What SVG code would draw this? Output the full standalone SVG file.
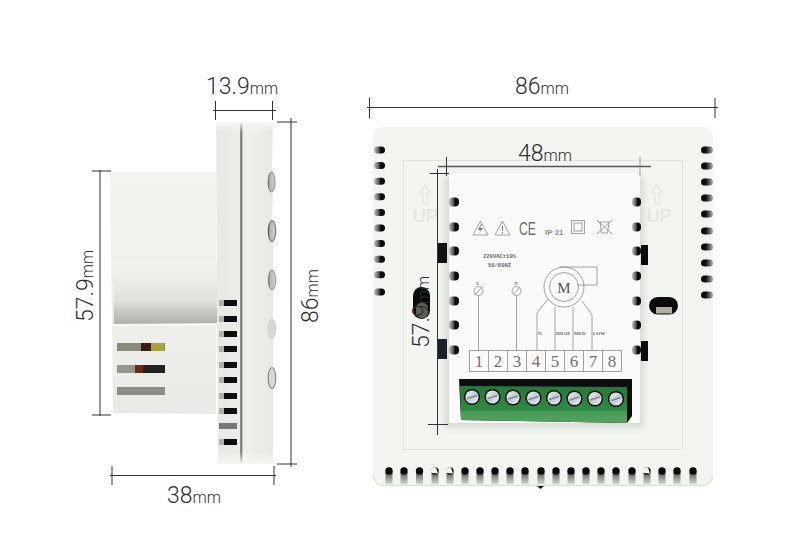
<svg xmlns="http://www.w3.org/2000/svg" width="790" height="554" viewBox="0 0 790 554">
<style>
.dim{stroke:#333;stroke-width:1;fill:none}
.dimb{stroke:#555;stroke-width:1.6;fill:none}
.t{font-family:Roboto,"Liberation Sans",sans-serif;font-weight:300;fill:#2e2e2e}
.big{font-size:23px}
.mm{font-size:16px}
.pr{stroke:#8a8c88;stroke-width:.8;fill:none}
.lb{font-family:"Liberation Serif",serif;font-weight:700;fill:#666;font-size:5px}
.num{font-family:"Liberation Serif",serif;fill:#6f716e;font-size:17px;text-anchor:middle}
.up{font-family:"Liberation Sans",sans-serif;font-size:18px;fill:#e2e4e0;text-anchor:middle}
</style>
<defs>
<linearGradient id="body" x1="0" y1="0" x2="0" y2="1"><stop offset="0" stop-color="#f3f3ef"/><stop offset=".55" stop-color="#efefeb"/><stop offset="1" stop-color="#e9e9e5"/></linearGradient>
<linearGradient id="recess" x1="0" y1="0" x2="0" y2="1"><stop offset="0" stop-color="#f3f3ef"/><stop offset=".6" stop-color="#e2e2de"/><stop offset="1" stop-color="#aeaeaa"/></linearGradient>
<linearGradient id="front" gradientUnits="userSpaceOnUse" x1="216" y1="0" x2="276" y2="0"><stop offset="0" stop-color="#e8e8e4"/><stop offset=".40" stop-color="#ecece8"/><stop offset=".41" stop-color="#7e7e76"/><stop offset=".43" stop-color="#7e7e76"/><stop offset=".45" stop-color="#f0f0ec"/><stop offset="1" stop-color="#e8e8e3"/></linearGradient>
<linearGradient id="cap" x1="0" y1="0" x2="0" y2="1"><stop offset="0" stop-color="#f6f6f3"/><stop offset="1" stop-color="#f6f6f3" stop-opacity="0"/></linearGradient>
<linearGradient id="capb" x1="0" y1="1" x2="0" y2="0"><stop offset="0" stop-color="#f6f6f3"/><stop offset="1" stop-color="#f6f6f3" stop-opacity="0"/></linearGradient>
<linearGradient id="green" x1="0" y1="0" x2="0" y2="1"><stop offset="0" stop-color="#2a763a"/><stop offset=".65" stop-color="#2f8a43"/><stop offset=".7" stop-color="#4b9c58"/><stop offset="1" stop-color="#579f62"/></linearGradient>
<linearGradient id="hvent" x1="0" y1="0" x2="1" y2="0"><stop offset="0" stop-color="#c4c4be"/><stop offset=".45" stop-color="#555"/><stop offset=".6" stop-color="#0c0c0c"/><stop offset="1" stop-color="#0c0c0c"/></linearGradient>
<linearGradient id="hvent2" x1="0" y1="0" x2="1" y2="0"><stop offset="0" stop-color="#0c0c0c"/><stop offset=".4" stop-color="#0c0c0c"/><stop offset="1" stop-color="#b4b4ae"/></linearGradient>
<linearGradient id="bvent" gradientUnits="userSpaceOnUse" x1="0" y1="472" x2="0" y2="484"><stop offset="0" stop-color="#555552"/><stop offset=".6" stop-color="#a4a4a0"/><stop offset="1" stop-color="#d2d2ce"/></linearGradient>
<linearGradient id="sil" x1="0" y1="0" x2="1" y2="1"><stop offset="0" stop-color="#f0f5f8"/><stop offset=".5" stop-color="#c2ccd3"/><stop offset="1" stop-color="#eef2f5"/></linearGradient>
<linearGradient id="btn" x1="0" y1="0" x2="1" y2="0"><stop offset="0" stop-color="#77776f"/><stop offset=".3" stop-color="#b8b8ae"/><stop offset="1" stop-color="#d2d2c8"/></linearGradient>
<filter id="soft" x="-20%" y="-20%" width="140%" height="140%"><feGaussianBlur stdDeviation=".5"/></filter>
<filter id="shadow" x="-10%" y="-10%" width="120%" height="120%"><feGaussianBlur stdDeviation="3"/></filter>
<g id="sv"><rect x="0" y="-3" width="7" height="6" fill="#b0b0a8"/><rect x="5" y="-3" width="13" height="6" fill="#0d0d0d"/></g>
<g id="lv"><rect x="0" y="-3.500" width="11" height="7" rx="3.500" fill="url(#hvent)"/></g>
<g id="rv"><rect x="0" y="-3.500" width="12" height="7" rx="3.500" fill="url(#hvent2)"/></g>
<g id="bv"><rect x="-3.500" y="472" width="7" height="12" fill="url(#bvent)"/><circle cx="0" cy="471" r="3.700" fill="#0a0a0a"/></g>
<g id="bw"><rect x="-3.500" y="472" width="7" height="12" fill="url(#bvent)"/><circle cx="0" cy="471" r="3.700" fill="#0a0a0a"/><path d="M-3.500 473a3.700 3.700 0 0 1 4.500-5.500l2 6z" fill="#f2f2ee"/></g>
<g id="ml"><rect x="0" y="-4.500" width="10" height="9" rx="4" fill="url(#hvent)"/></g>
<g id="mr"><rect x="0" y="-4.500" width="9" height="9" rx="4" fill="url(#hvent)"/></g>
<g id="sc"><circle r="8" fill="#0c0c0c"/><circle r="6.600" fill="url(#sil)"/><path d="M-5 1.500 5-1.500" stroke="#7f8a92" stroke-width="1.500"/></g>
</defs>
<rect width="790" height="554" fill="#fff"/>

<g id="side-view">
<g filter="url(#soft)">
<path d="M110 172H216V414L113 413 112 325 111 262Z" fill="url(#body)"/>
<path d="M113 263H217V323L114 324Z" fill="url(#recess)"/>
<rect x="113" y="324" width="104" height="1.500" fill="#fafaf6"/>
<rect x="117" y="343" width="48" height="8" fill="#8a8a78"/>
<rect x="141" y="343" width="10" height="8" fill="#3a1c14"/><rect x="151" y="343" width="13" height="8" fill="#a8a23c"/>
<rect x="117" y="365" width="48" height="8" fill="#222"/>
<rect x="117" y="365" width="18" height="8" fill="#96968c"/><rect x="135" y="365" width="8" height="8" fill="#6a2c18"/>
<rect x="117" y="387" width="48" height="8" fill="#8c8c86"/>
<path d="M216 123H273L272 170 275 178 276 184 273 194 272 220 276 232 273 244 273 270 276 280 273 292 273 318 276 328 273 340 273 366 276 378 273 392V464H218L217 300Z" fill="url(#front)"/>
<rect x="216" y="122" width="57" height="10" fill="url(#cap)"/>
<rect x="217" y="452" width="57" height="12" fill="url(#capb)"/>
<ellipse cx="271.500" cy="182" rx="3.500" ry="10" fill="url(#btn)" stroke="#444" stroke-width=".5"/>
<ellipse cx="272" cy="231" rx="3.800" ry="10.500" fill="url(#btn)" stroke="#222" stroke-width=".6"/>
<ellipse cx="272" cy="280" rx="3.800" ry="10" fill="url(#btn)" stroke="#555" stroke-width=".5"/>
<ellipse cx="272" cy="329" rx="3.800" ry="10" fill="#d8d8ce" stroke="#bbb" stroke-width=".5"/>
<ellipse cx="272" cy="378" rx="3.800" ry="10.500" fill="#d8d8ce" stroke="#333" stroke-width=".6"/>
<use href="#sv" x="219" y="303"/><use href="#sv" x="219" y="319"/><use href="#sv" x="219" y="334"/><use href="#sv" x="219" y="349"/><use href="#sv" x="219" y="365"/><use href="#sv" x="219" y="380"/><use href="#sv" x="219" y="396"/><use href="#sv" x="219" y="411"/>
<rect x="219" y="423" width="18" height="6" fill="#777"/><use href="#sv" x="219" y="442"/>
</g>
</g>

<g id="front-view">
<rect x="373" y="127" width="340" height="358" rx="10" fill="#f3f5f1" filter="url(#soft)"/>
<path d="M373.500 476Q374 485 384 485.500H702Q712 485 712.500 476" fill="none" stroke="#d6d6d2" stroke-width="1"/>
<rect x="403.500" y="160.500" width="279" height="289" fill="none" stroke="#e0e2dd"/>
<g id="left-vents">
<use href="#lv" x="374" y="150"/><use href="#lv" x="374" y="165.600"/><use href="#lv" x="374" y="181.200"/><use href="#lv" x="374" y="196.800"/><use href="#lv" x="374" y="212.400"/><use href="#lv" x="374" y="228"/><use href="#lv" x="374" y="243.600"/><use href="#lv" x="374" y="259.200"/><use href="#lv" x="374" y="274.800"/><use href="#lv" x="374" y="292"/>
</g>
<g id="right-vents">
<use href="#rv" x="701" y="150"/><use href="#rv" x="701" y="166"/><use href="#rv" x="701" y="182"/><use href="#rv" x="701" y="198"/><use href="#rv" x="701" y="214"/><use href="#rv" x="701" y="231"/><use href="#rv" x="701" y="247"/><use href="#rv" x="701" y="263"/><use href="#rv" x="701" y="279"/><use href="#rv" x="701" y="295"/>
</g>
<g id="bottom-vents">
<use href="#bv" x="389"/><use href="#bv" x="404"/><use href="#bv" x="419.500"/><use href="#bw" x="435"/><use href="#bw" x="450"/><use href="#bv" x="465"/><use href="#bv" x="480"/><use href="#bv" x="495"/><use href="#bv" x="510"/><use href="#bv" x="525"/><use href="#bv" x="541"/><use href="#bv" x="556"/><use href="#bv" x="571"/><use href="#bv" x="586"/><use href="#bv" x="601"/><use href="#bv" x="616"/><use href="#bv" x="632"/><use href="#bw" x="647"/><use href="#bv" x="662"/><use href="#bv" x="677"/><use href="#bv" x="693"/>
</g>
<path d="M537 486h7l-3.500 3z" fill="#111"/>
<g id="up-marks">
<path d="M425 186l-6 7h4v11h4v-11h4z" fill="none" stroke="#e2e4e0" stroke-width="1.200"/>
<text class="up" x="425.500" y="222">UP</text>
<path d="M657 186l-6 7h4v11h4v-11h4z" fill="none" stroke="#e2e4e0" stroke-width="1.200"/>
<text class="up" x="659" y="222">UP</text>
</g>
<rect x="444" y="176" width="200" height="252" rx="4" fill="#c8cac4" opacity=".6" filter="url(#shadow)"/>
<rect x="437" y="243" width="10" height="20" fill="#111"/>
<rect x="437" y="339" width="10" height="20" fill="#1a2228"/>
<rect x="641" y="245" width="7" height="20" fill="#0b0b0b"/>
<rect x="641" y="341" width="7" height="20" fill="#0b0b0b"/>
<rect x="449" y="173" width="191" height="250" rx="3" fill="#fafbf9"/>
<g id="module-vents">
<use href="#ml" x="449" y="202"/><use href="#ml" x="449" y="227"/><use href="#ml" x="449" y="251"/><use href="#ml" x="449" y="276"/><use href="#ml" x="449" y="301"/><use href="#ml" x="449" y="325"/><use href="#ml" x="449" y="350"/>
<use href="#mr" x="632" y="202"/><use href="#mr" x="632" y="227"/><use href="#mr" x="632" y="251"/><use href="#mr" x="632" y="276"/><use href="#mr" x="632" y="301"/><use href="#mr" x="632" y="325"/><use href="#mr" x="632" y="350"/>
</g>
<g id="keyholes">
<rect x="413" y="287" width="17" height="32" rx="8.500" fill="#0b0b0b"/><rect x="416" y="303" width="12" height="15" rx="5" fill="#5a6056"/>
<rect x="649" y="297" width="29" height="17.500" rx="8.700" fill="#0b0b0b"/><rect x="656" y="307" width="16" height="6.500" fill="#aeaea6"/>
</g>
<g id="label-icons">
<path class="pr" d="M473 235l7.500-14 7.500 14z"/><path d="M481 224l-3 6h3l-2 4 4-6h-3l2-4z" fill="#777"/>
<path class="pr" d="M495 235l7.500-14 7.500 14z"/><path d="M502.500 226v5M502.500 232v1.500" stroke="#777"/>
<text x="519" y="235" font-family="Liberation Sans,sans-serif" font-size="18" fill="#6d6f6c" textLength="17" lengthAdjust="spacingAndGlyphs">CE</text>
<text x="545" y="235" font-family="Liberation Sans,sans-serif" font-size="8" font-weight="700" fill="#8a8c88">IP 21</text>
<rect class="pr" x="571.500" y="220.500" width="13" height="13" stroke-width="1"/><rect class="pr" x="574" y="223" width="8" height="8"/>
<path class="pr" d="M597 220l15 14M612 220l-15 14M600 222h9l-1.500 11h-6z"/>
<text x="499.500" y="258" font-family="Liberation Mono,monospace" font-weight="700" font-size="5.500" fill="#666" text-anchor="middle">220VAC±10%</text>
<text x="499.500" y="267" font-family="Liberation Mono,monospace" font-weight="700" font-size="5.500" fill="#666" text-anchor="middle">50/60HZ</text>
<text class="lb" x="478" y="285" text-anchor="middle">L</text>
<text class="lb" x="516" y="285" text-anchor="middle">N</text>
<circle class="pr" cx="478.500" cy="291" r="4.500"/><path class="pr" d="M475 295l7-8"/>
<circle class="pr" cx="516.500" cy="291" r="4.500"/><path class="pr" d="M513 295l7-8"/>
<path class="pr" d="M478.500 296V350M516.500 296V350"/>
<circle class="pr" cx="564" cy="287" r="20"/><circle class="pr" cx="564" cy="287" r="14.500"/>
<path class="pr" d="M560 267H597V285H577"/>
<text x="564" y="293" font-family="Liberation Serif,serif" font-size="15" fill="#555" text-anchor="middle">M</text>
<path class="pr" d="M548 299L537 313V350M555 307V350M573 307V350M582 301L592 315V350"/>
<text class="lb" x="538" y="335">N</text><text class="lb" x="556" y="335">HIGH</text><text class="lb" x="574" y="335">MED</text><text class="lb" x="593" y="335">LOW</text>
</g>
<g id="terminal-table">
<rect class="pr" x="469.500" y="350.500" width="152" height="21"/>
<path class="pr" d="M488.500 350.500v21M507.500 350.500v21M526.500 350.500v21M545.500 350.500v21M564.500 350.500v21M583.500 350.500v21M602.500 350.500v21"/>
<text class="num" x="479" y="367">1</text><text class="num" x="498" y="367">2</text><text class="num" x="517" y="367">3</text><text class="num" x="536" y="367">4</text><text class="num" x="555" y="367">5</text><text class="num" x="574" y="367">6</text><text class="num" x="593" y="367">7</text><text class="num" x="612" y="367">8</text>
</g>
<g id="connector-block" filter="url(#soft)">
<path d="M459 379H632V416L627 423 461 420Z" fill="#0b0b0b"/>
<path d="M460 386 627 387V423L461 420Z" fill="url(#green)"/>
<use href="#sc" x="472" y="397"/><use href="#sc" x="492.500" y="397"/><use href="#sc" x="513" y="397.500"/><use href="#sc" x="533.500" y="398"/><use href="#sc" x="554" y="398"/><use href="#sc" x="574.500" y="398.500"/><use href="#sc" x="595" y="398.500"/><use href="#sc" x="616" y="399"/>
</g>
</g>

<g id="dimensions">
<g id="dim-13-9"><path class="dim" d="M213 110.500H276M215.500 101V120M272.500 101V120"/>
<text class="t" x="206" y="94"><tspan class="big">13.9</tspan><tspan class="mm">mm</tspan></text></g>
<g id="dim-86-side"><path class="dim" d="M291 118V467M277 122H297M277 464H297"/>
<text class="t" transform="translate(318 323) rotate(-90)"><tspan class="big">86</tspan><tspan class="mm">mm</tspan></text></g>
<g id="dim-57-9-side"><path class="dim" d="M100 170V416M92 171H111M92 415H111"/>
<text class="t" transform="translate(93 322) rotate(-90)"><tspan class="big">57.9</tspan><tspan class="mm">mm</tspan></text></g>
<g id="dim-38"><path class="dim" d="M110 475.500H276M112 466V485M274 466V485"/>
<text class="t" x="167" y="503"><tspan class="big">38</tspan><tspan class="mm">mm</tspan></text></g>
<g id="dim-86-front"><path class="dim" d="M367 107.500H718M369.500 98V118M715 98V118"/>
<text class="t" x="515" y="94"><tspan class="big">86</tspan><tspan class="mm">mm</tspan></text></g>
<g id="dim-48"><path class="dimb" d="M438 166.500H651"/><path class="dim" d="M446.500 157V176"/><path stroke="#999" d="M640 157V176"/>
<text class="t" x="518" y="161"><tspan class="big">48</tspan><tspan class="mm">mm</tspan></text></g>
<g id="dim-57-9-front"><path class="dim" d="M437.500 169V435M430 173.500H449M428 424.500H448" stroke-width=".8"/>
<text class="t" transform="translate(429 348) rotate(-90)"><tspan class="big">57.9</tspan><tspan class="mm">mm</tspan></text></g>
</g>
</svg>
